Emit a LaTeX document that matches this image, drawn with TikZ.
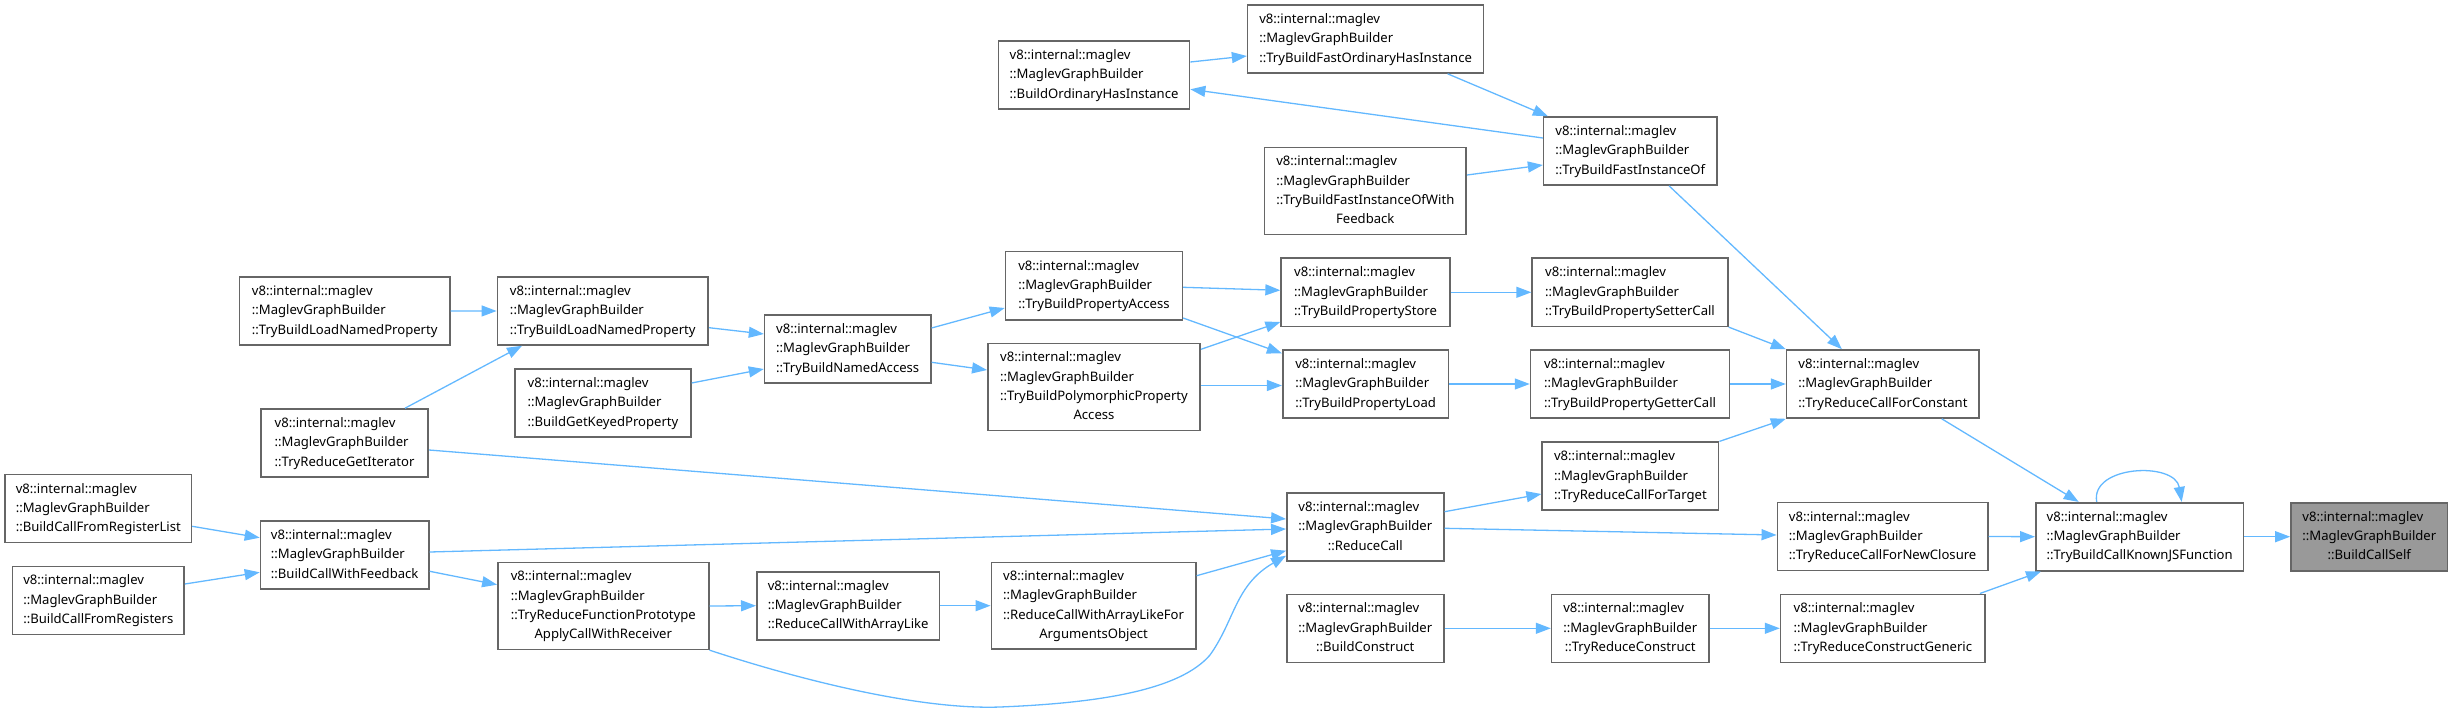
\documentclass[tikz,border=0pt]{standalone}
\usepackage{fontspec}
\setmainfont{Noto Sans}
\usetikzlibrary{arrows.meta,calc}
\definecolor{edgeblue}{HTML}{63B8FF}
\definecolor{boxgray}{HTML}{666666}
\definecolor{rootfill}{HTML}{999999}
\newcommand\mlab[2]{\begin{tabular}{@{}l@{}}v8::internal::maglev\\::MaglevGraphBuilder\\#1\multicolumn{1}{@{}c@{}}{#2}\end{tabular}}
\begin{document}
\begin{tikzpicture}[x=1pt,y=-1pt,
  fn/.style={draw=boxgray, line width=1.6pt, fill=white, inner sep=0pt,
    minimum height=68pt, font=\fontsize{13.1}{19.3}\selectfont},
  fnfour/.style={fn, minimum height=86.7pt},
  rootfn/.style={fn, fill=rootfill},
  conn/.style={draw=edgeblue, line width=1.3pt, -{Triangle[length=15pt,width=11pt]}}
]
\useasboundingbox (0,0) rectangle (2453,714);

% rank 0
\node[fn, minimum width=186.2pt] (F) at (98.3,508.5) {\mlab{}{::BuildCallFromRegisterList}};
\node[fn, minimum width=171.5pt] (H) at (98.3,600.3) {\mlab{}{::BuildCallFromRegisters}};
% rank 1
\node[fn, minimum width=210.3pt] (A) at (344.7,310.9) {\mlab{}{::TryBuildLoadNamedProperty}};
\node[fn, minimum width=167.3pt] (E) at (344.6,443) {\mlab{}{::TryReduceGetIterator}};
\node[fn, minimum width=168.4pt] (G) at (344.7,555) {\mlab{}{::BuildCallWithFeedback}};
% rank 2
\node[fn, minimum width=210.8pt] (B) at (602.8,311) {\mlab{}{::TryBuildLoadNamedProperty}};
\node[fn, minimum width=175.7pt] (D) at (603,403) {\mlab{}{::BuildGetKeyedProperty}};
\node[fnfour, minimum width=210.8pt] (I) at (603.3,606) {\mlab{::TryReduceFunctionPrototype\\}{ApplyCallWithReceiver}};
% rank 3
\node[fn, minimum width=166.2pt] (C) at (847.7,349) {\mlab{}{::TryBuildNamedAccess}};
\node[fn, minimum width=182.8pt] (J) at (848.2,605.7) {\mlab{}{::ReduceCallWithArrayLike}};
% rank 4
\node[fn, minimum width=190.9pt] (K) at (1094.1,75) {\mlab{}{::BuildOrdinaryHasInstance}};
\node[fn, minimum width=176.8pt] (L) at (1093.9,285.7) {\mlab{}{::TryBuildPropertyAccess}};
\node[fnfour, minimum width=212.3pt] (M) at (1094,387) {\mlab{::TryBuildPolymorphicProperty\\}{Access}};
\node[fnfour, minimum width=204.5pt] (N) at (1093.6,605.7) {\mlab{::ReduceCallWithArrayLikeFor\\}{ArgumentsObject}};
% rank 5
\node[fn, minimum width=235.9pt] (O) at (1365.6,39) {\mlab{}{::TryBuildFastOrdinaryHasInstance}};
\node[fnfour, minimum width=201.9pt] (P) at (1365.3,191) {\mlab{::TryBuildFastInstanceOfWith\\}{Feedback}};
\node[fn, minimum width=168.9pt] (Q) at (1365.6,292.3) {\mlab{}{::TryBuildPropertyStore}};
\node[fn, minimum width=165.8pt] (R) at (1365.6,384) {\mlab{}{::TryBuildPropertyLoad}};
\node[fn, minimum width=156.9pt] (S) at (1365.3,527) {\mlab{}{::ReduceCall}};
\node[fn, minimum width=156.9pt] (T) at (1365.3,628.3) {\mlab{}{::BuildConstruct}};
% rank 6
\node[fn, minimum width=173.3pt] (U) at (1630.3,151) {\mlab{}{::TryBuildFastInstanceOf}};
\node[fn, minimum width=195.7pt] (V) at (1630,292.3) {\mlab{}{::TryBuildPropertySetterCall}};
\node[fn, minimum width=198.9pt] (W) at (1630,384) {\mlab{}{::TryBuildPropertyGetterCall}};
\node[fn, minimum width=176.4pt] (X) at (1630.4,476.2) {\mlab{}{::TryReduceCallForTarget}};
\node[fn, minimum width=157.2pt] (Y) at (1630.2,628.3) {\mlab{}{::TryReduceConstruct}};
% rank 7
\node[fn, minimum width=192.6pt] (Z) at (1882.9,384) {\mlab{}{::TryReduceCallForConstant}};
\node[fn, minimum width=210.5pt] (AA) at (1882.6,536.5) {\mlab{}{::TryReduceCallForNewClosure}};
\node[fn, minimum width=204.6pt] (AB) at (1882.9,628.3) {\mlab{}{::TryReduceConstructGeneric}};
% rank 8, 9
\node[fn, minimum width=207.8pt] (AC) at (2139.7,536.7) {\mlab{}{::TryBuildCallKnownJSFunction}};
\node[rootfn, minimum width=156.7pt] (AD) at (2369.3,536.7) {\mlab{}{::BuildCallSelf}};

% connectors
\draw[conn] (A.east) -- (B.west);
\draw[conn] ($(B.east)+(0,16.7)$) -- ($(C.west)+(0,-15)$);
\draw[conn] ($(E.north)+(60.4,0)$) -- ($(B.south)+(-80.8,0)$);
\draw[conn] ($(D.east)+(0,-20)$) -- ($(C.west)+(0,20)$);
\draw[conn] ($(C.east)+(0,-21)$) -- ($(L.west)+(0,22.3)$);
\draw[conn] ($(C.east)+(0,13.3)$) -- ($(M.west)+(0,-17)$);
\draw[conn] ($(L.east)+(0,1.6)$) -- ($(Q.west)+(0,-2)$);
\draw[conn] ($(L.east)+(0,32.3)$) -- ($(R.west)+(0,-30.7)$);
\draw[conn] ($(M.east)+(0,-37.7)$) -- ($(Q.west)+(0,29.7)$);
\draw[conn] ($(M.east)+(0,-1.5)$) -- ($(R.west)+(0,1.5)$);
\draw[conn] (Q.east) -- (V.west);
\draw[conn] (R.east) -- (W.west);
\draw[conn] (V.south east) -- (Z.north west);
\draw[conn] (W.east) -- (Z.west);
\draw[conn] ($(U.south)+(38.7,0)$) -- ($(Z.north)+(-41,0)$);
\draw[conn] ($(K.east)+(0,-13)$) -- ($(O.west)+(0,17)$);
\draw[conn] ($(O.south)+(82,0)$) -- ($(U.north west)+(5,0)$);
\draw[conn] ($(U.west)+(0,-13)$) -- ($(K.east)+(0,14.3)$);
\draw[conn] ($(P.east)+(0,-16)$) -- ($(U.west)+(0,14)$);
\draw[conn] ($(E.east)+(0,7)$) -- ($(S.west)+(0,-8)$);
\draw[conn] ($(G.east)+(0,-3)$) -- ($(S.west)+(0,2)$);
\draw[conn] ($(F.east)+(0,17.8)$) -- ($(G.west)+(0,-17.3)$);
\draw[conn] ($(H.east)+(0,-16.3)$) -- ($(G.west)+(0,17.3)$);
\draw[conn] ($(G.east)+(0,16.3)$) -- ($(I.west)+(0,-21.3)$);
\draw[conn] (I.east) -- (J.west);
\draw[conn] (J.east) -- (N.west);
\draw[conn] ($(N.east)+(0,-30)$) -- ($(S.west)+(0,23.7)$);
\draw[conn] (I.south east) .. controls (800,680) and (920,710) .. (1000,707)
  .. controls (1100,703) and (1180,690) .. (1210,655)
  .. controls (1235,620) and (1235,585) .. ($(S.west)+(0,28.7)$);
\draw[conn] ($(S.east)+(0,-15.3)$) -- ($(X.west)+(0,17.8)$);
\draw[conn] ($(S.east)+(0,1.3)$) -- ($(AA.west)+(0,-1.5)$);
\draw[conn] (X.north east) -- (Z.south west);
\draw[conn] ($(Z.south)+(58.8,0)$) -- ($(AC.north)+(-61,0)$);
\draw[conn] (AA.east) -- (AC.west);
\draw[conn] ($(AB.north)+(97,0)$) -- ($(AC.south west)+(6,0)$);
\draw[conn] (AC.east) -- (AD.west);
\draw[conn] ($(AC.north)+(-43,0)$) .. controls +(-6.7,-36.7) and +(-6.7,-40.7) .. ($(AC.north)+(42,0)$);
\draw[conn] (T.east) -- (Y.west);
\draw[conn] (Y.east) -- (AB.west);
\end{tikzpicture}
\end{document}
